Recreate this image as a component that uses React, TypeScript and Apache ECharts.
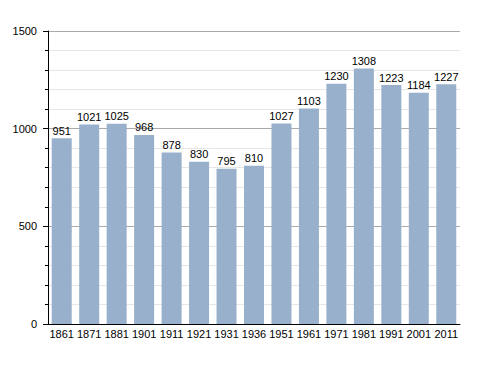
import React, { useEffect, useRef } from "react";
import * as echarts from "echarts";

const years = ["1861","1871","1881","1901","1911","1921","1931","1936","1951","1961","1971","1981","1991","2001","2011"];
const population = [951,1021,1025,968,878,830,795,810,1027,1103,1230,1308,1223,1184,1227];

export default function App() {
  const ref = useRef<HTMLDivElement>(null);
  useEffect(() => {
    const chart = echarts.init(ref.current!, null, { renderer: "svg" });
    chart.setOption({
      animation: false,
      grid: { left: 40, right: 28, top: 23, bottom: 49 },
      xAxis: {
        type: "category",
        data: years,
        axisLine: { lineStyle: { color: "#000", width: 1 } },
        axisTick: { show: false },
        axisLabel: { color: "#000", fontSize: 11, fontFamily: "Liberation Sans, Arial", margin: 4, interval: 0 },
      },
      yAxis: {
        type: "value",
        min: 0,
        max: 1500,
        interval: 500,
        axisLine: { show: true, lineStyle: { color: "#000", width: 1 } },
        axisTick: { show: true, length: 5, lineStyle: { color: "#000" } },
        minorTick: { show: true, splitNumber: 5, length: 3, lineStyle: { color: "#000" } },
        splitLine: { lineStyle: { color: "#aaaaaa", width: 1 } },
        minorSplitLine: { show: true, lineStyle: { color: "#e6e6e6", width: 1 } },
        axisLabel: { color: "#000", fontSize: 11, fontFamily: "Liberation Sans, Arial", margin: 11, formatter: (v: number) => String(v) },
      },
      series: [
        {
          type: "bar",
          data: population,
          barWidth: 20,
          itemStyle: { color: "#98b0cb" },
          label: {
            show: true,
            position: "top",
            distance: 2,
            color: "#000",
            fontSize: 11,
            fontFamily: "Liberation Sans, Arial",
          },
        },
      ],
    });
    return () => chart.dispose();
  }, []);
  return <div ref={ref} style={{ width: 480, height: 365 }} />;
}
